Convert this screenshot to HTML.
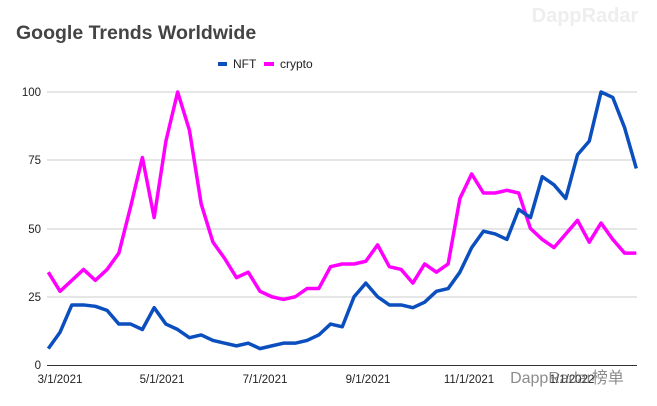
<!DOCTYPE html>
<html><head><meta charset="utf-8"><style>
body{margin:0;background:#fff;}
svg{display:block;font-family:"Liberation Sans",sans-serif;}
</style></head><body>
<svg width="657" height="406" viewBox="0 0 657 406">
<rect width="657" height="406" fill="#fff"/>
<text x="585" y="22" font-size="20" font-weight="bold" fill="#eeeeee" text-anchor="middle">DappRadar</text>
<text x="16" y="39" font-size="19.5" font-weight="bold" fill="#444">Google Trends Worldwide</text>
<rect x="218" y="62" width="9" height="4" fill="#0b4fbf"/>
<text x="233" y="68" font-size="12" fill="#222">NFT</text>
<rect x="264" y="62" width="10" height="4" fill="#ff00ff"/>
<text x="280" y="68" font-size="12" fill="#222">crypto</text>
<g stroke="#cccccc" stroke-width="1">
<line x1="47" y1="92" x2="637" y2="92"/>
<line x1="47" y1="160" x2="637" y2="160"/>
<line x1="47" y1="229" x2="637" y2="229"/>
<line x1="47" y1="297" x2="637" y2="297"/>
</g>
<line x1="47" y1="365.5" x2="637" y2="365.5" stroke="#333" stroke-width="1"/>
<g font-size="11.5" fill="#222" text-anchor="end">
<text x="41" y="96">100</text>
<text x="41" y="164">75</text>
<text x="41" y="233">50</text>
<text x="41" y="301">25</text>
<text x="41" y="369">0</text>
</g>
<g font-size="11.5" fill="#222" text-anchor="middle">
<text x="60" y="383">3/1/2021</text>
<text x="162" y="383">5/1/2021</text>
<text x="265" y="383">7/1/2021</text>
<text x="368" y="383">9/1/2021</text>
<text x="469" y="383">11/1/2021</text>
<text x="572" y="383">1/1/2022</text>
</g>
<g transform="translate(48.3,365) scale(11.76,-2.73)" fill="none" stroke-linejoin="round">
<polyline vector-effect="non-scaling-stroke" stroke="#ff00ff" stroke-width="3.5" points="0,34 1,27 2,31 3,35 4,31 5,35 6,41 7,58 8,76 9,54 10,82 11,100 12,86 13,59 14,45 15,39 16,32 17,34 18,27 19,25 20,24 21,25 22,28 23,28 24,36 25,37 26,37 27,38 28,44 29,36 30,35 31,30 32,37 33,34 34,37 35,61 36,70 37,63 38,63 39,64 40,63 41,50 42,46 43,43 44,48 45,53 46,45 47,52 48,46 49,41 50,41"/>
<polyline vector-effect="non-scaling-stroke" stroke="#0b4fbf" stroke-width="3.5" points="0,6 1,12 2,22 3,22 4,21.5 5,20 6,15 7,15 8,13 9,21 10,15 11,13 12,10 13,11 14,9 15,8 16,7 17,8 18,6 19,7 20,8 21,8 22,9 23,11 24,15 25,14 26,25 27,30 28,25 29,22 30,22 31,21 32,23 33,27 34,28 35,34 36,43 37,49 38,48 39,46 40,57 41,54 42,69 43,66 44,61 45,77 46,82 47,100 48,98 49,87 50,72"/>
</g>
<text x="567" y="383" font-size="16" fill="#666" opacity="0.75" text-anchor="middle" font-family="Liberation Sans, Noto Sans CJK SC, sans-serif">DappRadar榜单</text>
</svg>
</body></html>
